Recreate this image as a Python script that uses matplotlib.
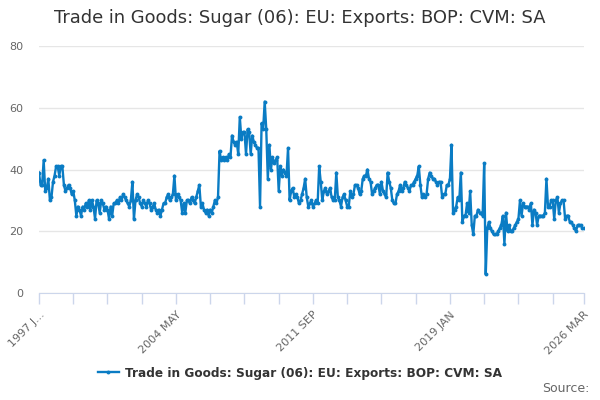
import matplotlib
matplotlib.use("Agg")
import matplotlib.pyplot as plt
import numpy as np

title = "Trade in Goods: Sugar (06): EU: Exports: BOP: CVM: SA"
series_name = "Trade in Goods: Sugar (06): EU: Exports: BOP: CVM: SA"

# Monthly values, 1997 JAN .. 2026 MAR
v1997 = [39, 35, 35, 43, 33, 34, 37, 30, 31, 36, 38, 41]
v1998 = [41, 38, 41, 41, 35, 33, 34, 35, 34, 32, 33, 30]
v1999 = [25, 28, 27, 25, 28, 27, 29, 28, 30, 27, 30, 28]
v2000 = [24, 30, 29, 26, 30, 29, 27, 28, 27, 24, 28, 25]
v2001 = [29, 29, 30, 29, 31, 30, 32, 31, 30, 29, 28, 30]
v2002 = [36, 24, 30, 32, 31, 29, 28, 30, 29, 28, 30, 29]
v2003 = [27, 28, 29, 27, 26, 27, 25, 27, 29, 29, 31, 32]
v2004 = [30, 31, 32, 38, 30, 32, 31, 30, 26, 29, 26, 30]
v2005 = [30, 29, 31, 30, 29, 31, 33, 35, 28, 29, 27, 26]
v2006 = [27, 25, 27, 26, 28, 30, 29, 31, 46, 43, 44, 43]
v2007 = [44, 43, 45, 44, 51, 49, 48, 49, 45, 57, 50, 52]
v2008 = [52, 45, 53, 52, 45, 51, 49, 48, 47, 47, 28, 55]
v2009 = [53, 62, 53, 37, 48, 40, 44, 42, 43, 44, 33, 41]
v2010 = [38, 40, 39, 38, 47, 30, 33, 34, 31, 32, 31, 29]
v2011 = [30, 32, 34, 37, 31, 28, 29, 30, 28, 29, 30, 29]
v2012 = [41, 36, 30, 33, 34, 32, 33, 34, 31, 30, 30, 39]
v2013 = [31, 30, 28, 31, 32, 30, 28, 28, 33, 31, 32, 35]
v2014 = [35, 34, 32, 33, 37, 38, 38, 40, 37, 36, 32, 33]
v2015 = [34, 35, 35, 32, 36, 33, 32, 31, 39, 36, 34, 30]
v2016 = [29, 29, 32, 33, 35, 33, 34, 36, 35, 34, 33, 35]
v2017 = [35, 36, 37, 38, 41, 35, 31, 32, 31, 32, 37, 39]
v2018 = [38, 37, 37, 36, 35, 36, 36, 31, 32, 32, 35, 35]
v2019 = [37, 48, 26, 27, 28, 31, 30, 39, 23, 25, 25, 29]
v2020 = [26, 33, 22, 19, 25, 25, 27, 26, 26, 25, 42, 6]
v2021 = [21, 23, 21, 20, 19, 19, 19, 20, 21, 22, 25, 16]
v2022 = [26, 20, 22, 20, 20, 21, 22, 23, 24, 30, 25, 29]
v2023 = [28, 28, 28, 27, 29, 22, 27, 26, 22, 25, 25, 25]
v2024 = [25, 26, 37, 28, 28, 30, 30, 24, 30, 31, 26, 29]
v2025 = [30, 30, 24, 25, 25, 23, 23, 22, 21, 20, 22, 22]
v2026 = [22, 21, 21]

values = (v1997 + v1998 + v1999 + v2000 + v2001 + v2002 + v2003 + v2004 + v2005 +
          v2006 + v2007 + v2008 + v2009 + v2010 + v2011 + v2012 + v2013 + v2014 +
          v2015 + v2016 + v2017 + v2018 + v2019 + v2020 + v2021 + v2022 + v2023 +
          v2024 + v2025 + v2026)

tick_labels = ["1997 J...", "2004 MAY", "2011 SEP", "2019 JAN", "2026 MAR"]
y_ticks = [0, 20, 40, 60, 80]

x = np.arange(len(values))
n = len(values)

fig = plt.figure(figsize=(6, 4), dpi=100)
ax = fig.add_axes([0.065, 0.2675, 0.908, 0.6175])

color = "#0a7cc4"
ax.plot(x, values, color=color, lw=1.7, marker="o", ms=2.8,
        markeredgewidth=0, label=series_name, zorder=3)

ax.set_xlim(0, n - 1)
ax.set_ylim(0, 80)
ax.set_yticks(y_ticks)
ax.set_yticklabels([str(t) for t in y_ticks], color="#666666", fontsize=8)
ax.grid(axis="y", color="#e6e6e6", lw=1)
ax.set_axisbelow(True)

major = [0, 88, 176, 264, n - 1]
minor = [i for i in range(0, n, 22) if i not in major]
ax.set_xticks(major)
ax.set_xticklabels(tick_labels, rotation=45, ha="right", rotation_mode="anchor",
                   color="#666666", fontsize=8)
ax.set_xticks(minor, minor=True)
ax.tick_params(axis="x", which="both", length=8, color="#ccd6eb", width=1, pad=4)
ax.tick_params(axis="y", length=0, pad=11)

for s in ["top", "right", "left"]:
    ax.spines[s].set_visible(False)
ax.spines["bottom"].set_color("#ccd6eb")

fig.text(0.5, 0.955, title, ha="center", va="center", fontsize=12.9, color="#333333")

leg = fig.legend(loc="center", bbox_to_anchor=(0.5, 0.067), frameon=False,
                 prop={"weight": "bold", "size": 8.7}, handlelength=1.8,
                 handletextpad=0.5)
for t in leg.get_texts():
    t.set_color("#333333")

fig.text(0.983, 0.028, "Source:", ha="right", va="center", fontsize=9, color="#666666")

fig.savefig("out.png", dpi=100)
